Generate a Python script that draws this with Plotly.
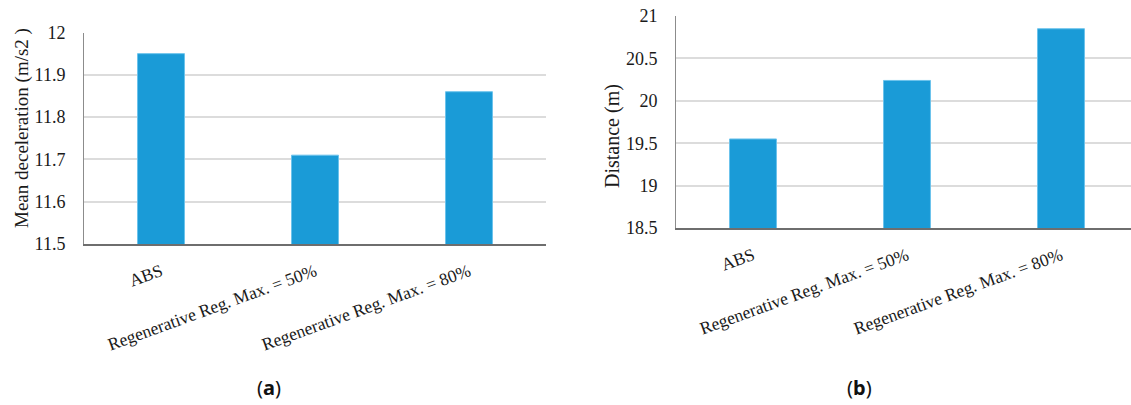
import plotly.graph_objects as go

categories = ["ABS", "Regenerative Reg. Max. = 50%", "Regenerative Reg. Max. = 80%"]
decel_values = [11.95, 11.71, 11.86]
distance_values = [19.55, 20.24, 20.85]
decel_ticks = [11.5, 11.6, 11.7, 11.8, 11.9, 12]
decel_ticktext = ["11.5", "11.6", "11.7", "11.8", "11.9", "12"]
dist_ticks = [18.5, 19, 19.5, 20, 20.5, 21]
dist_ticktext = ["18.5", "19", "19.5", "20", "20.5", "21"]

W, H = 1131, 405
bar_color = "#1a9bd7"
edge_color = "#6cc3ec"
serif = "Liberation Serif, Times New Roman, serif"
txt = "#1a1a1a"

fig = go.Figure()
fig.add_trace(go.Bar(x=categories, y=decel_values, marker=dict(color=bar_color, line=dict(color=edge_color, width=1)),
                     width=0.305, xaxis="x", yaxis="y", showlegend=False, hoverinfo="x+y"))
fig.add_trace(go.Bar(x=categories, y=distance_values, marker=dict(color=bar_color, line=dict(color=edge_color, width=1)),
                     width=0.305, xaxis="x2", yaxis="y2", showlegend=False, hoverinfo="x+y"))

def xax(domain, anchor, rng):
    return dict(domain=domain, anchor=anchor, range=rng, tickangle=-20, showline=True, linecolor="#6e6e6e",
                linewidth=1.5, ticks="outside", ticklen=9, tickcolor="rgba(0,0,0,0)",
                tickfont=dict(family=serif, size=17.5, color=txt), showgrid=False, fixedrange=True,
                automargin=False)

def yax(domain, anchor, rng, tv, tt):
    return dict(domain=domain, anchor=anchor, range=rng, tickvals=tv, ticktext=tt, showline=True,
                linecolor="#8c8c8c", linewidth=1, showgrid=True, gridcolor="#dcdcdc", gridwidth=1.5,
                zeroline=False, ticks="outside", ticklen=14, tickcolor="rgba(0,0,0,0)",
                tickfont=dict(family=serif, size=18, color=txt), fixedrange=True, automargin=False)

ax_a = (84, 546, 32.5, 244)   # left, right, top, bottom (px)
ax_b = (676, 1131, 16, 228)
b_span = (ax_b[1] - ax_b[0]) / ((ax_a[1] - ax_a[0]) / 3.0)

fig.update_layout(
    width=W, height=H,
    margin=dict(l=0, r=0, t=0, b=0),
    paper_bgcolor="white", plot_bgcolor="white",
    xaxis=xax([ax_a[0] / W, ax_a[1] / W], "y", [-0.5, 2.5]),
    yaxis=yax([1 - ax_a[3] / H, 1 - ax_a[2] / H], "x", [11.5, 12], decel_ticks, decel_ticktext),
    xaxis2=xax([ax_b[0] / W, ax_b[1] / W], "y2", [-0.5, -0.5 + b_span]),
    yaxis2=yax([1 - ax_b[3] / H, 1 - ax_b[2] / H], "x2", [18.5, 21], dist_ticks, dist_ticktext),
    annotations=[
        dict(text="Mean deceleration (m/s2 )", textangle=-90, x=22 / W, y=1 - 128 / H, xref="paper", yref="paper",
             showarrow=False, font=dict(family=serif, size=19, color=txt), xanchor="center", yanchor="middle"),
        dict(text="Distance (m)", textangle=-90, x=612 / W, y=1 - 136 / H, xref="paper", yref="paper",
             showarrow=False, font=dict(family=serif, size=20, color=txt), xanchor="center", yanchor="middle"),
        dict(text="(<b>a</b>)", x=269 / W, y=1 - 387 / H, xref="paper", yref="paper", showarrow=False,
             font=dict(family="Noto Sans, sans-serif", size=20, color="#111"), xanchor="center", yanchor="middle"),
        dict(text="(<b>b</b>)", x=859 / W, y=1 - 387 / H, xref="paper", yref="paper", showarrow=False,
             font=dict(family="Noto Sans, sans-serif", size=20, color="#111"), xanchor="center", yanchor="middle"),
    ],
)

fig.write_html("out.html", config={"displayModeBar": False},
               post_script="document.body.style.margin='0';document.body.style.overflow='hidden';")
